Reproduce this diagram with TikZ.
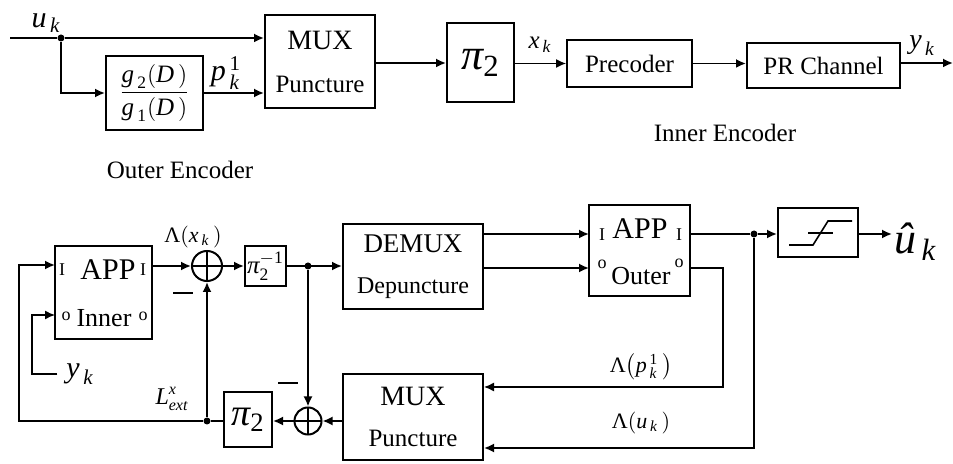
\documentclass[tikz,border=0pt]{standalone}
\usepackage{amsmath}
\usepackage{fontspec}
\setmainfont{Liberation Serif}
\usetikzlibrary{arrows.meta,positioning,calc}

\newcommand{\vi}[1]{\textit{#1}}
\newcommand{\fs}[1]{\fontsize{#1}{#1}\selectfont}

\begin{document}
\begin{tikzpicture}[x=0.5pt, y=-0.5pt, >={Latex[length=5pt,width=4.5pt]}, line width=0.9pt,
  every node/.style={font=\fs{12.5}}]
  \tikzstyle{block}=[draw, line width=1pt, inner sep=0pt]
  \tikzstyle{sum}=[circle, draw, line width=1pt, inner sep=0pt, minimum size=15pt,
    path picture={\draw[line width=1pt] (path picture bounding box.north) -- (path picture bounding box.south)
      (path picture bounding box.west) -- (path picture bounding box.east);}]
  \tikzstyle{dot}=[circle, fill, inner sep=0pt, minimum size=3.5pt]
  \tikzstyle{port}=[inner sep=0pt, font=\fs{9}]
  \tikzstyle{lbl}=[inner sep=1pt]

  \useasboundingbox (0,0) rectangle (953,464);

  % outer encoder
  \coordinate (in) at (10,38);
  \node[dot] (uk) at (61,38) {};
  \node[lbl, font=\fs{15}] (uklbl) at (46,23) {$\vi{u}_{\,\vi{k}}$};
  \node[block, minimum width=48.5pt, minimum height=37pt] (gfun) at (154.5,93)
    {$\dfrac{\vi{g}_{\,\text{2}}(\vi{D}\,)}{\vi{g}_{\,\text{1}}(\vi{D}\,)}$};
  \node[lbl, font=\fs{15}] (pk) at (226,73) {$\vi{p}^{\,\text{1}}_{\,\vi{k}}$};
  \node[block, minimum width=55pt, minimum height=46.5pt, align=center] (mux) at (320,62)
    {\fs{14}MUX\\[9pt]Puncture};
  \node[block, minimum width=33.5pt, minimum height=39.5pt] (pi) at (480.5,63)
    {\fs{22}$\vi{π}_{\text{2}}$};
  \node[lbl] (xk) at (540,45) {$\vi{x}_{\,\vi{k}}$};
  \node[block, minimum width=62.5pt, minimum height=23.5pt] (prec) at (629.5,63.5) {Precoder};
  \node[block, minimum width=76.5pt, minimum height=22.5pt] (prch) at (823.5,65.5) {PR Channel};
  \node[lbl, font=\fs{14}] (yk) at (922,46) {$\vi{y}_{\,\vi{k}}$};
  \coordinate (out) at (953,63);
  \node (outerenc) at (180,170) {Outer Encoder};
  \node (innerenc) at (725,133) {Inner Encoder};

  \draw (in) -- (uk);
  \draw[->] (uk) -- (uk -| mux.west);
  \draw[->] (uk) |- (gfun.west);
  \draw[->] (gfun.east) -- (gfun.east -| mux.west);
  \draw[->] (mux.east |- pi) -- (pi.west);
  \draw[->, line width=0.6pt] (pi.east |- prec) -- (prec.west);
  \draw[->] (prec.east) -- (prec.east -| prch.west);
  \draw[->] (prch.east |- out) -- (out);

  % iterative decoder
  \node[block, minimum width=48.5pt, minimum height=46.5pt] (inner) at (103.5,292.5) {};
  \node[port] (iI1) at (62,270) {I};
  \node[font=\fs{15}] (iapp) at (108,270) {APP};
  \node[port] (iI2) at (143,270) {I};
  \node[port] (iO1) at (66,316) {o};
  \node[font=\fs{13}] (iname) at (104,318) {Inner};
  \node[port] (iO2) at (143,316) {o};
  \coordinate (innI) at (55,265);
  \coordinate (innO) at (55,315);

  \node[sum] (sum1) at (207,266) {};
  \node[lbl, font=\fs{11}] (lx) at (193,237) {\text{Λ}$(\vi{x}_{\,\vi{k}}\,)$};
  \node[inner sep=0pt] (m1) at (183,293) {\rule{10pt}{1.3pt}};
  \node[block, minimum width=20.5pt, minimum height=20pt] (pinv) at (265.5,266)
    {$\vi{π}^{-\text{1}}_{\text{2}}$};
  \node[dot] (split) at (308,266) {};
  \node[block, minimum width=70pt, minimum height=42.5pt, align=center] (demux) at (413,266.5)
    {\fs{13.5}DEMUX\\[8pt]\fs{12}Depuncture};

  \node[block, minimum width=50.5pt, minimum height=45.5pt] (outer) at (639.5,250.5) {};
  \node[port] (oI1) at (602,235) {I};
  \node[font=\fs{15}] (oapp) at (640,229) {APP};
  \node[port] (oI2) at (679,235) {I};
  \node[port] (oO1) at (602,264) {o};
  \node[font=\fs{13}] (oname) at (641,276) {Outer};
  \node[port] (oO2) at (679,263) {o};
  \coordinate (outI) at (589,234);
  \coordinate (outO) at (589,268);
  \coordinate (outOr) at (690,268);

  \node[dot] (hard) at (754,234) {};
  \node[block, minimum width=40pt, minimum height=24.5pt] (slicer) at (818,233) {};
  \draw[line width=0.8pt] ($(slicer.center)+(-29,12)$) -- ++(24,0) -- ++(15,-24) -- ++(24,0);
  \draw[line width=0.8pt] ($(slicer.center)+(-10,0)$) -- ++(25,0);
  \node[lbl, font=\fs{22}, anchor=west] (uhat) at (892,242) {$\text{\itshape û}_{\,\vi{k}}$};

  \node[block, minimum width=70pt, minimum height=43pt, align=center] (mux2) at (413,417)
    {\fs{14}MUX\\[8pt]Puncture};
  \node[sum, minimum size=13.5pt] (sum2) at (308,421) {};
  \node[inner sep=0pt] (m2) at (288,383) {\rule{10pt}{1.3pt}};
  \node[block, minimum width=24pt, minimum height=27.5pt] (pib) at (248,419.5)
    {\fs{19}$\vi{π}_{\text{2}}$};
  \node[dot] (fb) at (207,421) {};
  \node[lbl, font=\fs{12}] (lext) at (172,399) {$\vi{L}^{\vi{x}}_{\vi{ext}}$};
  \coordinate (fbl) at (19,421);
  \node[lbl, font=\fs{15}] (yklow) at (80,374) {$\vi{y}_{\,\vi{k}}$};
  \coordinate (ykl) at (32,374);

  \node[lbl, font=\fs{11}] (lp) at (641,367) {\text{Λ}$\bigl(\vi{p}^{\,\text{1}}_{\,\vi{k}}\,\bigr)$};
  \node[lbl, font=\fs{11}] (lu) at (641,423) {\text{Λ}$(\vi{u}_{\,\vi{k}}\,)$};
  \coordinate (r1) at (723,387);
  \coordinate (r2) at (754,448);

  \draw[->] (inner.east |- sum1) -- (sum1.west);
  \draw[->] (sum1) -- (pinv);
  \draw[->] (pinv.east) -- (demux.west |- pinv.east);
  \draw[->] (split) -- (sum2);
  \draw[->] (mux2.west |- sum2) -- (sum2.east);
  \draw[->] (sum2) -- (pib.east |- sum2);
  \draw (pib.west |- sum2) -- (fb);
  \draw[->] (fb) -- (sum1);
  \draw[->] (fb) -- (fbl) |- (innI);
  \draw[->, line width=0.7pt] ($(yklow.west)+(-6,0)$) -- (ykl) |- (innO);

  \draw[->] (demux.east |- outI) -- (outI);
  \draw[->] (demux.east |- outO) -- (outO);
  \draw (outer.east |- hard) -- (hard);
  \draw[->] (hard) -- (slicer.west |- hard);
  \draw[->] (slicer.east |- hard) -- (hard -| uhat.west);
  \draw[->, line width=0.7pt] (outOr) -| (r1) -- (mux2.east |- r1);
  \draw[->] (hard) -- (r2) -- (mux2.east |- r2);
\end{tikzpicture}
\end{document}
